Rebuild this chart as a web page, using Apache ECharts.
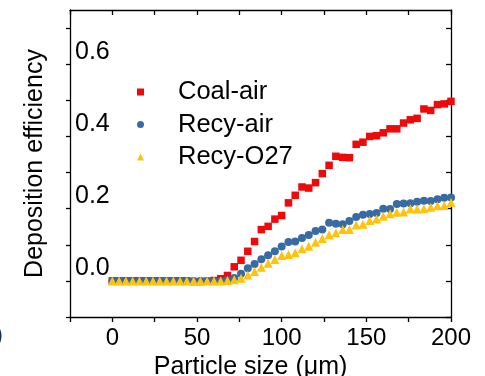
<!DOCTYPE html>
<html>
<head>
<meta charset="utf-8">
<script src="https://cdn.jsdelivr.net/npm/echarts@6/dist/echarts.min.js"></script>
<style>
  html, body { margin: 0; padding: 0; background: #fff; }
  #chart { width: 485px; height: 376px; }
</style>
</head>
<body>
<div id="chart"></div>
<script>
// particle size (um)
const sizes = [0, 4, 8, 12, 16, 20, 24, 28, 32, 36, 40, 44, 48, 52, 56, 60, 64, 68, 72, 76,
  80, 84, 88, 92, 96, 100, 104, 108, 112, 116, 120, 124, 128, 132, 136, 140, 144, 148, 152, 156,
  160, 164, 168, 172, 176, 180, 184, 188, 192, 196, 200]

const coalAir = [0, 0, 0, 0, 0, 0, 0, 0, 0, 0, 0, 0, -0.002, -0.002, -0.001, 0.001, 0.006, 0.015, 0.039, 0.057,
  0.082, 0.109, 0.142, 0.151, 0.171, 0.181, 0.216, 0.237, 0.260, 0.257, 0.272, 0.297, 0.320, 0.345, 0.342, 0.341,
  0.378, 0.384, 0.400, 0.402, 0.410, 0.421, 0.421, 0.437, 0.446, 0.450, 0.476, 0.472, 0.488, 0.490, 0.497]

const recyAir = [0, 0, 0, 0, 0, 0, 0, 0, 0, 0, 0, 0, 0, 0, 0, 0, 0, 0.002, 0.008, 0.020,
  0.035, 0.047, 0.060, 0.071, 0.082, 0.095, 0.108, 0.109, 0.119, 0.127, 0.138, 0.142, 0.161, 0.158, 0.157, 0.166,
  0.177, 0.183, 0.185, 0.188, 0.200, 0.199, 0.213, 0.214, 0.215, 0.219, 0.222, 0.221, 0.226, 0.230, 0.231]

const recyO27 = [0, 0, 0, 0, 0, 0, 0, 0, 0, 0, 0, 0, 0, 0, 0, 0, 0, 0.001, 0.003, 0.007,
  0.016, 0.026, 0.038, 0.049, 0.059, 0.070, 0.073, 0.078, 0.089, 0.096, 0.107, 0.117, 0.128, 0.133, 0.142, 0.142,
  0.155, 0.157, 0.167, 0.171, 0.179, 0.186, 0.190, 0.191, 0.200, 0.199, 0.200, 0.204, 0.208, 0.209, 0.217]

const xTicks = [-25, 0, 25, 50, 75, 100, 125, 150, 175, 200]
const xLabels = [0, 50, 100, 150, 200]
const yTicks = [-0.1, 0, 0.1, 0.2, 0.3, 0.4, 0.5, 0.6, 0.7]
const yLabels = [0, 0.2, 0.4, 0.6]

const font = "'Liberation Sans', Arial, sans-serif"
const axisLine = { show: true, onZero: false, lineStyle: { color: '#000', width: 1.3 } }

function pairs(ys) {
  return sizes.map((x, i) => [x, ys[i]])
}

let chart = echarts.init(document.getElementById('chart'), null, { renderer: 'canvas' })
let option = {
  backgroundColor: '#fff',
  animation: false,
  textStyle: { fontFamily: font },
  grid: { left: 70, right: 34, top: 10, bottom: 59, outerBoundsMode: 'none', containLabel: false },
  legend: {
    orient: 'vertical',
    left: 132,
    top: 74,
    itemWidth: 7,
    itemHeight: 7,
    itemGap: 6.5,
    textStyle: { fontSize: 25.5, color: '#000', fontFamily: font, padding: [0, 0, 0, 29], lineHeight: 26 },
    data: [
      { name: 'Coal-air', icon: 'rect' },
      { name: 'Recy-air', icon: 'circle' },
      { name: 'Recy-O27', icon: 'triangle' }
    ]
  },
  xAxis: [{
    type: 'value',
    min: -25,
    max: 200,
    interval: 25,
    position: 'bottom',
    name: 'Particle size (\u03bcm)',
    nameLocation: 'middle',
    nameGap: 31,
    nameTextStyle: { fontSize: 25, color: '#000', fontFamily: font, padding: [0, 20, 0, 0] },
    axisLine: axisLine,
    axisTick: { show: true, length: 5, lineStyle: { color: '#000', width: 1.3 }, customValues: xTicks },
    axisLabel: { fontSize: 24, color: '#000', margin: 9, customValues: xLabels },
    splitLine: { show: false }
  }, {
    type: 'value',
    min: -25,
    max: 200,
    interval: 25,
    position: 'top',
    axisLine: axisLine,
    axisTick: { show: true, inside: true, length: 5, lineStyle: { color: '#000', width: 1.3 }, customValues: xTicks },
    axisLabel: { show: false },
    splitLine: { show: false }
  }],
  yAxis: [{
    type: 'value',
    min: -0.1,
    max: 0.75,
    position: 'left',
    name: 'Deposition efficiency',
    nameLocation: 'middle',
    nameGap: 22,
    nameTextStyle: { fontSize: 25, color: '#000', fontFamily: font },
    axisLine: axisLine,
    axisTick: { show: true, length: 4, lineStyle: { color: '#000', width: 1.3 }, customValues: yTicks },
    axisLabel: {
      inside: true,
      margin: 5,
      fontSize: 25,
      color: '#000',
      verticalAlign: 'bottom',
      customValues: yLabels,
      formatter: v => v.toFixed(1)
    },
    splitLine: { show: false }
  }, {
    type: 'value',
    min: -0.1,
    max: 0.75,
    position: 'right',
    axisLine: axisLine,
    axisTick: { show: true, inside: true, length: 5, lineStyle: { color: '#000', width: 1.3 }, customValues: yTicks },
    axisLabel: { show: false },
    splitLine: { show: false }
  }],
  graphic: [{
    type: 'text',
    left: -5,
    top: 323,
    style: { text: ')', fontSize: 24, fill: '#1a2a5a', fontFamily: font }
  }],
  series: [{
    name: 'Coal-air',
    type: 'scatter',
    symbol: 'rect',
    symbolSize: 7.5,
    itemStyle: { color: '#ee0a0a', opacity: 1 },
    data: pairs(coalAir)
  }, {
    name: 'Recy-air',
    type: 'scatter',
    symbol: 'circle',
    symbolSize: 8,
    itemStyle: { color: '#386ba3', opacity: 1 },
    data: pairs(recyAir)
  }, {
    name: 'Recy-O27',
    type: 'scatter',
    symbol: 'triangle',
    symbolSize: 9,
    itemStyle: { color: '#ffc30f', opacity: 1 },
    data: pairs(recyO27)
  }]
}
chart.setOption(option)
</script>
</body>
</html>
